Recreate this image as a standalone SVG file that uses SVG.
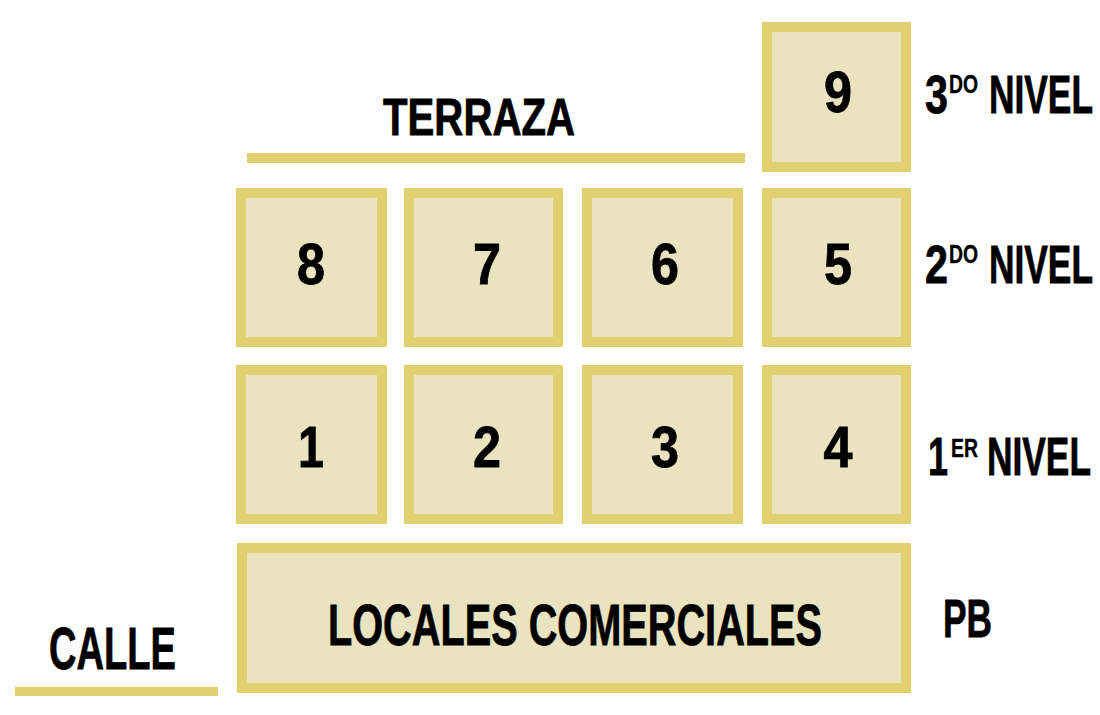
<svg xmlns="http://www.w3.org/2000/svg" width="1100" height="715" viewBox="0 0 1100 715">
<style>
.box{fill:#E9E3BF;stroke:#E0D070;stroke-width:10}
.bar{fill:#E0D070}
text{font-family:"Liberation Sans Narrow","Liberation Sans",sans-serif;font-weight:bold;fill:#000;stroke:#000;stroke-width:0.8}
.num{font-size:58px;text-anchor:middle}
.lvl{font-size:54px}
.sup{font-size:25px;stroke-width:0.4}
</style>
<rect width="1100" height="715" fill="#fff"/>
<g id="terraza">
<rect class="bar" x="247" y="153" width="498" height="10"/>
<text x="383" y="135" font-size="52" textLength="192" lengthAdjust="spacingAndGlyphs">TERRAZA</text>
</g>
<g id="calle">
<rect class="bar" x="15" y="687" width="203" height="9"/>
<text x="49" y="669" font-size="60" textLength="127" lengthAdjust="spacingAndGlyphs">CALLE</text>
</g>
<g id="n9"><rect class="box" x="767" y="27" width="139" height="140"/><text class="num" x="838" y="112" textLength="28" lengthAdjust="spacingAndGlyphs">9</text></g>
<g id="n8"><rect class="box" x="241" y="193" width="141" height="149"/><text class="num" x="311" y="284" textLength="28" lengthAdjust="spacingAndGlyphs">8</text></g>
<g id="n7"><rect class="box" x="409" y="193" width="149" height="149"/><text class="num" x="487" y="284" textLength="28" lengthAdjust="spacingAndGlyphs">7</text></g>
<g id="n6"><rect class="box" x="587" y="193" width="151" height="149"/><text class="num" x="665" y="284" textLength="28" lengthAdjust="spacingAndGlyphs">6</text></g>
<g id="n5"><rect class="box" x="767" y="193" width="139" height="149"/><text class="num" x="838" y="284" textLength="28" lengthAdjust="spacingAndGlyphs">5</text></g>
<g id="n1"><rect class="box" x="241" y="370" width="141" height="149"/><text class="num" x="311" y="467" textLength="26" lengthAdjust="spacingAndGlyphs">1</text></g>
<g id="n2"><rect class="box" x="409" y="370" width="149" height="149"/><text class="num" x="487" y="467" textLength="28" lengthAdjust="spacingAndGlyphs">2</text></g>
<g id="n3"><rect class="box" x="587" y="370" width="151" height="149"/><text class="num" x="665" y="467" textLength="28" lengthAdjust="spacingAndGlyphs">3</text></g>
<g id="n4"><rect class="box" x="767" y="370" width="139" height="149"/><text class="num" x="838" y="467" textLength="29" lengthAdjust="spacingAndGlyphs">4</text></g>
<g id="pb"><rect class="box" x="242" y="548" width="664" height="140"/><text x="328" y="645" font-size="58" textLength="494" lengthAdjust="spacingAndGlyphs">LOCALES COMERCIALES</text></g>
<g id="nivel3">
<text class="lvl" x="925" y="113" textLength="23" lengthAdjust="spacingAndGlyphs">3</text>
<text class="sup" x="949" y="93" textLength="29" lengthAdjust="spacingAndGlyphs">DO</text>
<text class="lvl" x="989" y="113" textLength="104" lengthAdjust="spacingAndGlyphs">NIVEL</text>
</g>
<g id="nivel2">
<text class="lvl" x="925" y="283" textLength="23" lengthAdjust="spacingAndGlyphs">2</text>
<text class="sup" x="949" y="263" textLength="29" lengthAdjust="spacingAndGlyphs">DO</text>
<text class="lvl" x="989" y="283" textLength="104" lengthAdjust="spacingAndGlyphs">NIVEL</text>
</g>
<g id="nivel1">
<text class="lvl" x="928" y="475" textLength="20" lengthAdjust="spacingAndGlyphs">1</text>
<text class="sup" x="951" y="457" textLength="27" lengthAdjust="spacingAndGlyphs">ER</text>
<text class="lvl" x="987" y="475" textLength="104" lengthAdjust="spacingAndGlyphs">NIVEL</text>
</g>
<g id="planta-baja">
<text class="lvl" x="943" y="637" textLength="49" lengthAdjust="spacingAndGlyphs">PB</text>
</g>
</svg>
